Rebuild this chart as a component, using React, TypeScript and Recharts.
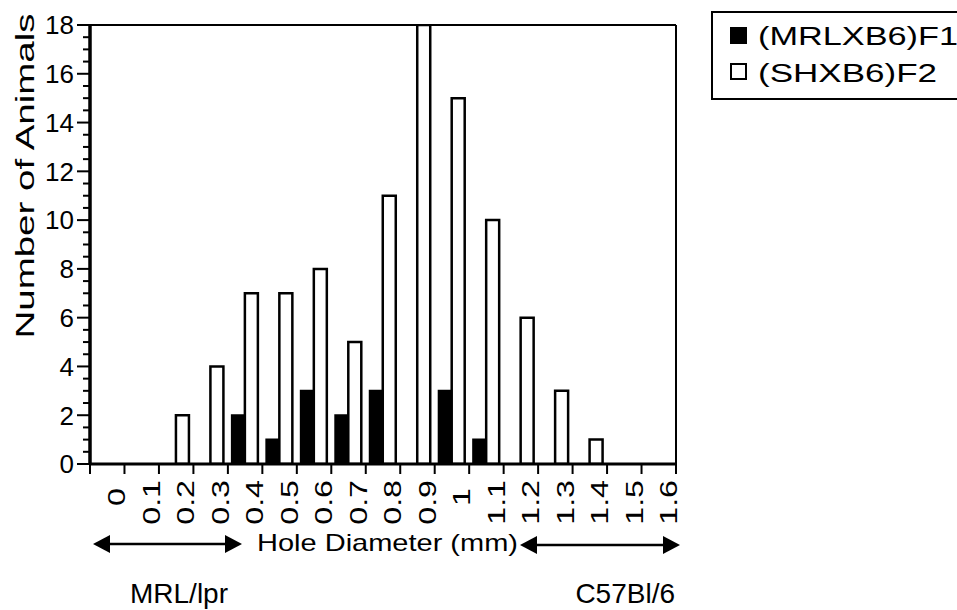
import React from 'react';
import { BarChart, Bar, XAxis, YAxis, Legend, ReferenceLine } from 'recharts';

// histogram bins, 0.1 mm wide, starting at -0.1
const bins = [
  '-0.1-0', '0-0.1', '0.1-0.2', '0.2-0.3', '0.3-0.4', '0.4-0.5', '0.5-0.6', '0.6-0.7', '0.7-0.8',
  '0.8-0.9', '0.9-1', '1-1.1', '1.1-1.2', '1.2-1.3', '1.3-1.4', '1.4-1.5', '1.5-1.6',
];
const binCenters = [-0.05, 0.05, 0.15, 0.25, 0.35, 0.45, 0.55, 0.65, 0.75, 0.85, 0.95, 1.05, 1.15, 1.25, 1.35, 1.45, 1.55];
const f1Counts = [0, 0, 0, 0, 2, 1, 3, 2, 3, 0, 3, 1, 0, 0, 0, 0, 0]; // (MRLXB6)F1
const f2Counts = [0, 0, 2, 4, 7, 7, 8, 5, 11, 18, 15, 10, 6, 3, 1, 0, 0]; // (SHXB6)F2

const xTickValues = [-0.1, 0, 0.1, 0.2, 0.3, 0.4, 0.5, 0.6, 0.7, 0.8, 0.9, 1, 1.1, 1.2, 1.3, 1.4, 1.5, 1.6];
const xTickLabels = ['', '0', '0.1', '0.2', '0.3', '0.4', '0.5', '0.6', '0.7', '0.8', '0.9', '1', '1.1', '1.2', '1.3', '1.4', '1.5', '1.6'];
const yMajorTicks = [0, 2, 4, 6, 8, 10, 12, 14, 16, 18];
const yTicks = Array.from({ length: 37 }, (_, i) => i / 2); // minor tick every 0.5

const data = bins.map((bin, i) => ({ bin, xc: binCenters[i], f1: f1Counts[i], f2: f2Counts[i] }));

const FONT = '"Liberation Sans", Arial, Helvetica, sans-serif';

const XTick = (props: any) => {
  const { x, y, payload, index } = props;
  const label = xTickLabels[index] ?? String(payload.value);
  const shift = label.length === 1 ? 8 : 0;
  return (
    <text
      transform={`translate(${x + 1},${y + 6 + shift}) rotate(-90) scale(1.4,1)`}
      textAnchor="end"
      fontSize={23}
      fontFamily={FONT}
      fill="#000"
    >
      {label}
    </text>
  );
};

const YTick = (props: any) => {
  const { x, y, payload } = props;
  const major = yMajorTicks.includes(payload.value);
  return (
    <g>
      <line x1={x - (major ? 13 : 7)} x2={x} y1={y} y2={y} stroke="#000" strokeWidth={2} />
      {major && (
        <text x={x - 16} y={y} dy="0.36em" textAnchor="end" fontSize={26} fontFamily={FONT} fill="#000">
          {payload.value}
        </text>
      )}
    </g>
  );
};

const LegendBox = () => (
  <svg width={260} height={90} style={{ display: 'block' }}>
    <rect x={1} y={1} width={270} height={87} fill="#fff" stroke="#000" strokeWidth={2} />
    <rect x={19} y={16} width={17} height={17} fill="#000" />
    <text x={47} y={34} fontSize={26} fontFamily={FONT} textLength={200} lengthAdjust="spacingAndGlyphs">
      (MRLXB6)F1
    </text>
    <rect x={20} y={53} width={15} height={15} fill="#fff" stroke="#000" strokeWidth={2} />
    <text x={47} y={71} fontSize={26} fontFamily={FONT} textLength={179} lengthAdjust="spacingAndGlyphs">
      (SHXB6)F2
    </text>
  </svg>
);

const Arrow = ({ x1, x2, y }: { x1: number; x2: number; y: number }) => (
  <g>
    <line x1={x1 + 14} x2={x2 - 14} y1={y} y2={y} stroke="#000" strokeWidth={2.5} />
    <polygon points={`${x1},${y} ${x1 + 17},${y - 9} ${x1 + 17},${y + 9}`} fill="#000" />
    <polygon points={`${x2},${y} ${x2 - 17},${y - 9} ${x2 - 17},${y + 9}`} fill="#000" />
  </g>
);

export default function App() {
  return (
    <div style={{ position: 'absolute', left: 0, top: 0, width: 957, height: 610, overflow: 'hidden', background: '#fff' }}>
      <BarChart
        width={957}
        height={610}
        data={data}
        margin={{ top: 25, right: 281, bottom: 0, left: 0 }}
        barGap={0}
        barSize={13}
      >
        <XAxis dataKey="bin" hide height={0} />
        <XAxis
          xAxisId="num"
          dataKey="xc"
          type="number"
          domain={[-0.1, 1.6]}
          allowDataOverflow
          ticks={xTickValues}
          interval={0}
          height={146}
          tickSize={10}
          tickMargin={0}
          tickLine={{ stroke: '#000', strokeWidth: 2 }}
          axisLine={{ stroke: '#000', strokeWidth: 3 }}
          tick={<XTick />}
        />
        <YAxis
          domain={[0, 18]}
          allowDataOverflow
          ticks={yTicks}
          interval={0}
          width={90}
          tickSize={0}
          tickMargin={0}
          tickLine={false}
          axisLine={{ stroke: '#000', strokeWidth: 3 }}
          tick={<YTick />}
        />
        <ReferenceLine y={18} stroke="#000" strokeWidth={2} />
        <ReferenceLine xAxisId="num" x={-0.1} stroke="#000" strokeWidth={3} />
        <ReferenceLine xAxisId="num" x={1.6} stroke="#000" strokeWidth={2} />
        <Bar dataKey="f1" name="(MRLXB6)F1" fill="#000" stroke="#000" strokeWidth={2} isAnimationActive={false} />
        <Bar dataKey="f2" name="(SHXB6)F2" fill="#fff" stroke="#000" strokeWidth={2.5} isAnimationActive={false} />
        <Legend content={LegendBox} layout="horizontal" verticalAlign="middle" wrapperStyle={{ top: 11, left: 711, width: 260 }} />
      </BarChart>
      <svg width={957} height={610} style={{ position: 'absolute', left: 0, top: 0, pointerEvents: 'none' }} fontFamily={FONT}>
        <text transform="translate(34,176) rotate(-90)" textAnchor="middle" fontSize={26} textLength={325} lengthAdjust="spacingAndGlyphs">
          Number of Animals
        </text>
        <Arrow x1={93} x2={242} y={544} />
        <text x={257} y={551} fontSize={24} textLength={261} lengthAdjust="spacingAndGlyphs">
          Hole Diameter (mm)
        </text>
        <Arrow x1={520} x2={680} y={545} />
        <text x={130} y={603} fontSize={28}>MRL/lpr</text>
        <text x={675} y={603} fontSize={28} textAnchor="end">C57Bl/6</text>
      </svg>
    </div>
  );
}
